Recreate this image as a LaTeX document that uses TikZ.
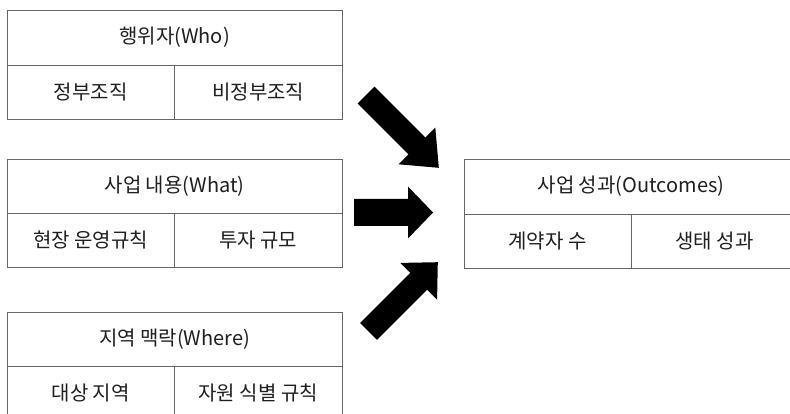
\documentclass[tikz,border=0pt]{standalone}
\usepackage{fontspec}
\setmainfont{Noto Sans CJK KR}
\begin{document}
\begin{tikzpicture}[x=1pt,y=-1pt,
  cell/.style={draw=black!60, line width=0.9pt, rectangle, inner sep=0pt,
    text=black!88, font=\fontsize{20}{24}\selectfont},
  arrowfill/.style={fill=black}]
\useasboundingbox (0,0) rectangle (790,414);
\clip (0,0) rectangle (790,414);
\fill[white] (0,0) rectangle (790,414);

% Who
\node[cell, minimum width=335pt, minimum height=55pt] (who) at (174.5,37.5) {행위자(Who)};
\node[cell, minimum width=167.5pt, minimum height=54pt] (gov) at (90.75,92) {정부조직};
\node[cell, minimum width=167.5pt, minimum height=54pt] (ngo) at (258.25,92) {비정부조직};

% What
\node[cell, minimum width=335pt, minimum height=54pt] (what) at (174.5,186) {사업 내용(What)};
\node[cell, minimum width=167.5pt, minimum height=54pt] (rule) at (90.75,240) {현장 운영규칙};
\node[cell, minimum width=167.5pt, minimum height=54pt] (invest) at (258.25,240) {투자 규모};

% Where
\node[cell, minimum width=335pt, minimum height=54pt] (where) at (174.5,339) {지역 맥락(Where)};
\node[cell, minimum width=167.5pt, minimum height=54pt] (area) at (90.75,393) {대상 지역};
\node[cell, minimum width=167.5pt, minimum height=54pt] (res) at (258.25,393) {자원 식별 규칙};

% Outcomes
\node[cell, minimum width=334pt, minimum height=55pt] (out) at (631,186.5) {사업 성과(Outcomes)};
\node[cell, minimum width=167pt, minimum height=54pt] (cnt) at (547.5,241) {계약자 수};
\node[cell, minimum width=167pt, minimum height=54pt] (eco) at (714.5,241) {생태 성과};

% block arrows
\begin{scope}[shift={(366,95)}, rotate=-45]
  \fill[arrowfill] (0,-12) -- (72,-12) -- (72,-26) -- (103,0) -- (72,26) -- (72,12) -- (0,12) -- cycle;
\end{scope}
\begin{scope}[shift={(354,212.5)}]
  \fill[arrowfill] (0,-13.5) -- (54,-13.5) -- (54,-26) -- (79,0) -- (54,26) -- (54,13.5) -- (0,13.5) -- cycle;
\end{scope}
\begin{scope}[shift={(368.5,331.5)}, rotate=45]
  \fill[arrowfill] (0,-12) -- (71,-12) -- (71,-26) -- (98,0) -- (71,26) -- (71,12) -- (0,12) -- cycle;
\end{scope}
\end{tikzpicture}
\end{document}
